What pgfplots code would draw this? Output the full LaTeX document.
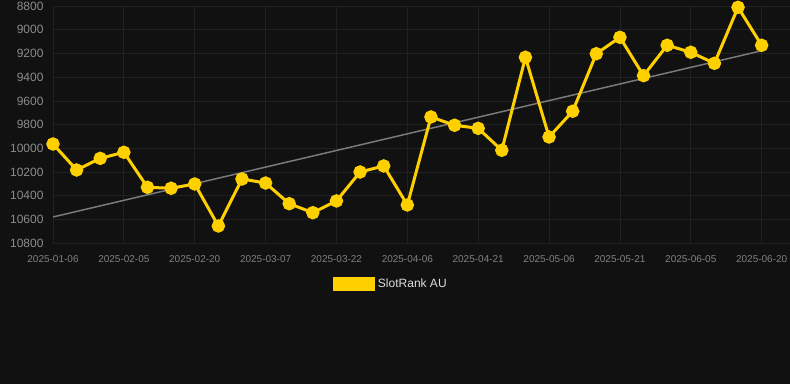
\documentclass[border=0pt]{standalone}
\usepackage{pgfplots}
\pgfplotsset{compat=1.18}
\usepackage{fontspec}
\setmainfont{Liberation Sans}
\definecolor{bg}{HTML}{111111}
\definecolor{gridc}{HTML}{212121}
\definecolor{gold}{HTML}{FFD000}
\definecolor{ticklab}{HTML}{8C8C8C}
\definecolor{xticklab}{HTML}{808080}
\definecolor{trend}{HTML}{7A7A7A}
\definecolor{legtext}{HTML}{DDDDDD}
\begin{document}
\begin{tikzpicture}[x=1pt,y=1pt]
\fill[bg] (0,0) rectangle (790,384);
\begin{axis}[
  at={(53pt,140.7pt)}, anchor=south west,
  scale only axis, width=737pt, height=237.3pt,
  xmin=0, xmax=31.2, ymin=8800, ymax=10800, y dir=reverse,
  ytick={8800,9000,...,10800},
  scaled y ticks=false,
  xtick={0,3,...,30},
  xticklabels={2025-01-06,2025-02-05,2025-02-20,2025-03-07,2025-03-22,2025-04-06,2025-04-21,2025-05-06,2025-05-21,2025-06-05,2025-06-20},
  grid=major, grid style={gridc, line width=0.8pt},
  axis line style={draw=none},
  major tick length=0pt,
  yticklabel style={font=\fontsize{12}{14}\selectfont, text=ticklab, xshift=-6pt},
  xticklabel style={font=\fontsize{10}{12}\selectfont, text=xticklab, yshift=-9pt},
  yticklabel={\pgfmathprintnumber[fixed,precision=0,set thousands separator={}]{\tick}},
  /pgf/number format/assume math mode=true,
  /pgf/number format/set thousands separator={},
  clip=false,
  legend style={draw=none, fill=none, inner sep=0pt, outer sep=0pt,
    at={(0.3799,-0.1715)}, anchor=west,
    font=\fontsize{12}{14}\selectfont, text=legtext},
  legend image code/.code={\fill[gold] (0pt,-5.7pt) rectangle (39pt,5.7pt);},
]
\addplot[trend, line width=1.5pt, forget plot] coordinates {(0,10578) (30,9177)};
\addplot[gold, line width=3pt, mark=*, mark size=5.2pt, mark options={fill=gold, draw=none}] coordinates {
(0,9963) (1,10182) (2,10084) (3,10033) (4,10328) (5,10336) (6,10300) (7,10654)
(8,10258) (9,10292) (10,10466) (11,10542) (12,10443) (13,10199) (14,10148)
(15,10477) (16,9735) (17,9805) (18,9831) (19,10016) (20,9232) (21,9904)
(22,9687) (23,9202) (24,9064) (25,9387) (26,9131) (27,9190) (28,9283)
(29,8811) (30,9131)};
\addlegendentry{\hspace{1pt}SlotRank AU}
\end{axis}
\pgfresetboundingbox
\path (0,0) rectangle (790,384);
\end{tikzpicture}
\end{document}
